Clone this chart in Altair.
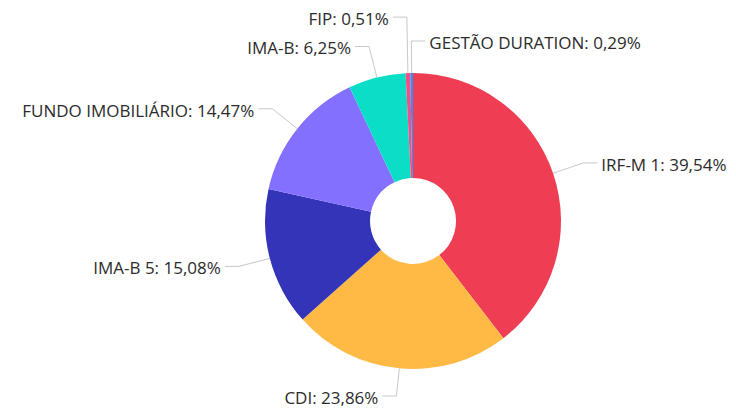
import math
import altair as alt
import pandas as pd

# ---- data ----
names = ["IRF-M 1", "CDI", "IMA-B 5", "FUNDO IMOBILIÁRIO", "IMA-B", "FIP", "GESTÃO DURATION"]
values = [39.54, 23.86, 15.08, 14.47, 6.25, 0.51, 0.29]
colors = ["#EF3E54", "#FFB945", "#3434B8", "#8470FF", "#0ADEC6", "#F0508A", "#3C8CF0"]

# ---- layout (plot-area pixels) ----
W, H = 720, 401
CX, CY = 405, 213          # pie centre inside the plot area
R_OUT, R_IN = 148, 43
LEN1, LEN2, GAP = 32, 14, 4
EDGE = 13                  # keep label elbows this far inside the top/bottom edges
# label-collision adjustments (like the original's label layout)
tweaks = {"FIP": {"lift": 24}, "GESTÃO DURATION": {"side": "right"}}


def fmt(n, v):
    return f"{n}: {v:.2f}".replace(".", ",") + "%"


total = sum(values)
slices = pd.DataFrame({"idx": list(range(len(names))), "name": names, "value": values})

line_rows, text_rows = [], []
cum = 0.0
for n, v in zip(names, values):
    a = (cum + v / 2) / total * 2 * math.pi
    cum += v
    s, c = math.sin(a), math.cos(a)
    p0 = (R_OUT * s, R_OUT * c)
    p1 = [(R_OUT + LEN1) * s, (R_OUT + LEN1) * c]
    t = tweaks.get(n, {})
    side = t.get("side", "right" if s >= 0 else "left")
    p1[1] += t.get("lift", 0)
    p1[1] = min(max(p1[1], -(H - CY) + EDGE), CY - EDGE + 4)
    sign = 1 if side == "right" else -1
    p2 = (p1[0] + sign * LEN2, p1[1])
    for k, (x, y) in enumerate([p0, p1, p2]):
        line_rows.append({"name": n, "seq": k, "x": x, "y": y})
    text_rows.append({"name": n, "label": fmt(n, v), "x": p2[0] + sign * GAP,
                      "y": p2[1] - 3, "side": side})

lines = pd.DataFrame(line_rows)
texts = pd.DataFrame(text_rows)

xs = alt.Scale(domain=[-CX, W - CX], nice=False, zero=False)
ys = alt.Scale(domain=[-(H - CY), CY], nice=False, zero=False)

arc = alt.Chart(slices).mark_arc(innerRadius=R_IN, outerRadius=R_OUT).encode(
    theta=alt.Theta("value:Q", stack=True),
    order=alt.Order("idx:Q", sort="ascending"),
    color=alt.Color("name:N", scale=alt.Scale(domain=names, range=colors), legend=None),
    x=alt.XDatum(0, type="quantitative", scale=xs, axis=None),
    y=alt.YDatum(0, type="quantitative", scale=ys, axis=None),
)

leader = alt.Chart(lines).mark_line(color="#c8c8c8", strokeWidth=1).encode(
    x=alt.X("x:Q", scale=xs, axis=None),
    y=alt.Y("y:Q", scale=ys, axis=None),
    detail="name:N",
    order="seq:Q",
)

txt_style = dict(baseline="middle", font="Open Sans", fontSize=17, color="#2b2b2b")
right_txt = alt.Chart(texts).transform_filter(alt.datum.side == "right").mark_text(
    align="left", **txt_style).encode(
    x=alt.X("x:Q", scale=xs, axis=None),
    y=alt.Y("y:Q", scale=ys, axis=None),
    text="label:N",
)
left_txt = alt.Chart(texts).transform_filter(alt.datum.side == "left").mark_text(
    align="right", **txt_style).encode(
    x=alt.X("x:Q", scale=xs, axis=None),
    y=alt.Y("y:Q", scale=ys, axis=None),
    text="label:N",
)

chart = alt.layer(leader, arc, right_txt, left_txt).properties(
    width=W, height=H, padding=0, autosize=alt.AutoSizeParams(type="none")
).configure_view(strokeWidth=0)

chart.save("out.html", embed_options={"renderer": "svg", "actions": False})
